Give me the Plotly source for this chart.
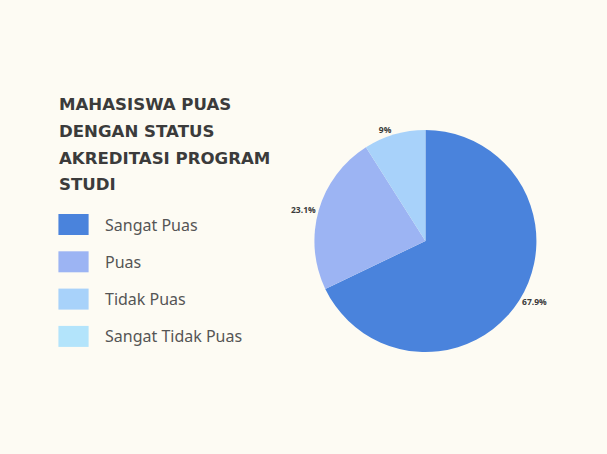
import plotly.graph_objects as go

categories = ["Sangat Puas", "Puas", "Tidak Puas", "Sangat Tidak Puas"]
values = [67.9, 23.1, 9.0, 0.0]
colors = ["#4a83dc", "#9cb4f3", "#a8d2fa", "#b3e4fb"]
title_lines = ["MAHASISWA PUAS", "DENGAN STATUS", "AKREDITASI PROGRAM", "STUDI"]

W, H = 607, 454
text_labels = [f"{v:g}%" if v > 0 else "" for v in values]

fig = go.Figure()
fig.add_trace(go.Pie(
    labels=categories, values=values, text=text_labels,
    textinfo="text", textposition="outside", sort=False, direction="clockwise",
    rotation=0, marker=dict(colors=colors, line=dict(width=0)),
    textfont=dict(family="Open Sans", size=8.5, color="#3a3a3a", weight="bold"),
    showlegend=False, hoverinfo="label+percent",
    domain=dict(x=[0.47 + 9 / W, 0.94 + 9 / W], y=[1 - 352 / H, 1 - 130 / H]),
))

# title lines
for i, line in enumerate(title_lines):
    fig.add_annotation(x=59 / W, y=1 - (104 + 27 * i) / H, xref="paper", yref="paper",
                       text=f"<b>{line}</b>", showarrow=False, xanchor="left", yanchor="middle",
                       font=dict(family="DejaVu Sans", size=16.6, color="#3b3b3b"))

# custom legend
for i, (cat, col) in enumerate(zip(categories, colors)):
    yc = 224.5 + 37.3 * i
    fig.add_shape(type="rect", xref="paper", yref="paper",
                  x0=60 / W, x1=91 / W, y0=1 - (yc - 10.5) / H, y1=1 - (yc + 10.5) / H,
                  fillcolor=col, line=dict(width=0))
    fig.add_annotation(x=106 / W, y=1 - yc / H, xref="paper", yref="paper", text=cat,
                       showarrow=False, xanchor="left", yanchor="middle",
                       font=dict(family="Noto Sans", size=16, color="#555555"))

fig.update_layout(width=W, height=H, margin=dict(l=0, r=0, t=0, b=0),
                  paper_bgcolor="#fdfbf3", plot_bgcolor="#fdfbf3")
fig.write_html("out.html", config={"displayModeBar": False},
               post_script="document.body.style.margin='0';document.body.style.background='#fdfbf3';")
